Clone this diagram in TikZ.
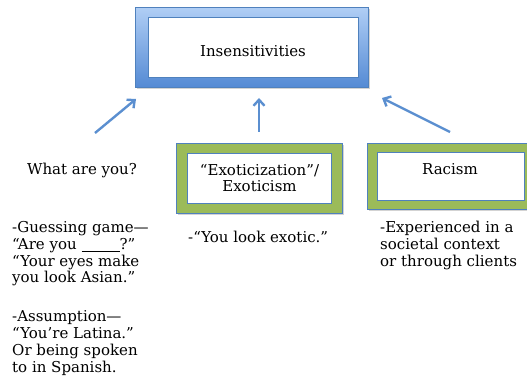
\documentclass[tikz,border=0pt]{standalone}
\usepackage{fontspec}
\setmainfont{DejaVu Serif}
\usetikzlibrary{arrows.meta,shadows}
\definecolor{arrowblue}{RGB}{91,143,208}
\definecolor{frametop}{RGB}{176,206,245}
\definecolor{framebot}{RGB}{84,138,212}
\definecolor{frameline}{RGB}{79,129,189}
\definecolor{framegreen}{RGB}{155,187,89}
\begin{document}
\begin{tikzpicture}[x=1pt,y=-1pt,
  txt/.style={font=\fontsize{15}{16.7}\selectfont, inner sep=0pt},
  para/.style={txt, align=left, anchor=base west},
  bluefr/.style={anchor=north west, inner sep=0pt, top color=frametop, bottom color=framebot, draw=frameline, line width=0.6pt, drop shadow={shadow xshift=2pt, shadow yshift=-2pt, opacity=0.35}},
  greenfr/.style={anchor=north west, inner sep=0pt, fill=framegreen, draw=frameline, line width=0.6pt, drop shadow={shadow xshift=1.5pt, shadow yshift=-2pt, opacity=0.35}},
  innerbox/.style={anchor=north west, inner sep=0pt, fill=white, draw=frameline, line width=0.6pt},
  arr/.style={draw=arrowblue, line width=2.4pt, -{Straight Barb[length=6pt,width=11pt]}}
]
\useasboundingbox (0,0) rectangle (527,379);

% top box
\node[bluefr, minimum width=233pt, minimum height=80pt] (topouter) at (135,7) {};
\node[innerbox, minimum width=210pt, minimum height=60pt] (topinner) at (148,17) {};
\node[txt, anchor=base] (toptxt) at (253,57) {Insensitivities};

% exoticism box
\node[greenfr, minimum width=166pt, minimum height=70pt] (exouter) at (176,143) {};
\node[innerbox, minimum width=144pt, minimum height=50pt] (exinner) at (187,153) {};
\node[txt, align=center, anchor=base] (extxt) at (259.5,192) {“Exoticization”/\\Exoticism};

% racism box
\node[greenfr, minimum width=161pt, minimum height=66pt] (raouter) at (367,143) {};
\node[innerbox, minimum width=147pt, minimum height=48pt] (rainner) at (377,152) {};
\node[txt, anchor=base] (ratxt) at (450,175) {Racism};

% what are you
\node[txt, anchor=base] (what) at (82,175) {What are you?};

% arrows
\coordinate (a1s) at (95,133);
\coordinate (a1e) at (136,99);
\coordinate (a2s) at (259,132);
\coordinate (a2e) at (259,98);
\coordinate (a3s) at (450,132);
\coordinate (a3e) at (382,98);
\draw[arr] (a1s) -- (a1e);
\draw[arr] (a2s) -- (a2e);
\draw[arr] (a3s) -- (a3e);

% paragraphs (base anchor = last line's baseline)
\node[para] (guess) at (12,283) {-Guessing game—\\“Are you \underline{\hspace{38pt}}?”\\“Your eyes make\\you look Asian.”};
\node[para] (assume) at (12,372) {-Assumption—\\“You’re Latina.”\\Or being spoken\\to in Spanish.};
\node[para] (exotic) at (188,243) {-“You look exotic.”};
\node[para] (soc) at (380,266.4) {-Experienced in a\\societal context\\or through clients};
\end{tikzpicture}
\end{document}
